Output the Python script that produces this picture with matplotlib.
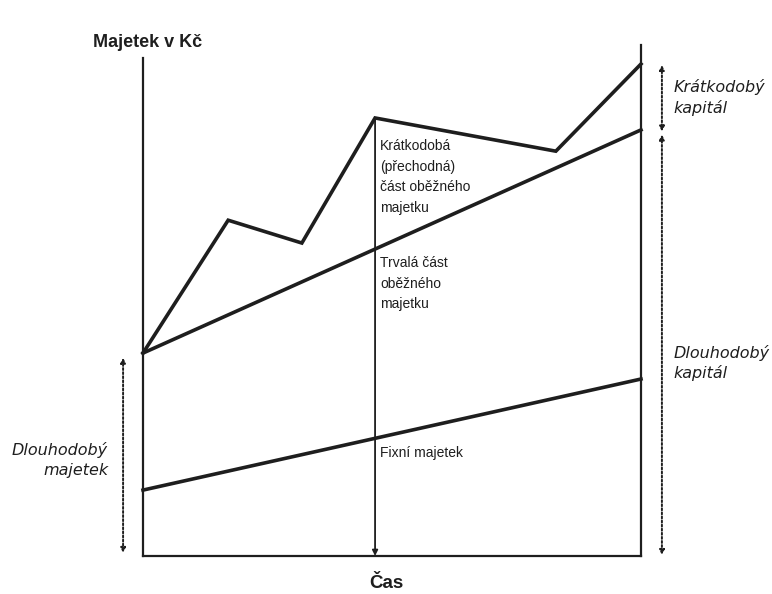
import matplotlib
matplotlib.use("Agg")
import matplotlib.pyplot as plt

# Data (time 0..1, value in arbitrary units of assets)
time_pts = [0.0, 0.171, 0.319, 0.466, 0.829, 1.0]
total_assets = [39.1, 64.7, 60.3, 84.4, 78.0, 94.8]
perm_time = [0.0, 1.0]
permanent_current = [39.1, 82.1]
fixed_time = [0.0, 1.0]
fixed_assets = [12.7, 34.1]
peak_time = 0.466
peak_value = 84.4

ylabel_text = "Majetek v Kč"
xlabel_text = "Čas"

plt.rcParams['font.family'] = ['Liberation Sans', 'DejaVu Sans']

fig = plt.figure(figsize=(7.72, 5.94), dpi=100)
ax = fig.add_axes([143/772, (594-556)/594, (641-143)/772, (556-37)/594])
ax.set_xlim(0, 1)
ax.set_ylim(0, 100)
ax.axis('off')

c = '#1e1e1e'
# axes lines
ax.plot([0, 0], [0, 96], color=c, lw=1.6, clip_on=False)
ax.plot([0, 1], [0, 0], color=c, lw=1.6, clip_on=False)
ax.plot([1, 1], [0, 98.5], color=c, lw=1.6, clip_on=False)

# series
ax.plot(time_pts, total_assets, color=c, lw=2.6, clip_on=False, solid_joinstyle='miter')
ax.plot(perm_time, permanent_current, color=c, lw=2.6, clip_on=False)
ax.plot(fixed_time, fixed_assets, color=c, lw=2.6, clip_on=False)

# middle vertical arrow
ax.annotate('', xy=(peak_time, 0), xytext=(peak_time, peak_value),
            arrowprops=dict(arrowstyle='-|>', color=c, lw=1.3, mutation_scale=8,
                            shrinkA=0, shrinkB=0), annotation_clip=False)

# dotted arrows
def darrow(x, y0, y1):
    ax.annotate('', xy=(x, y0), xytext=(x, y1),
                arrowprops=dict(arrowstyle='<|-|>', color=c, lw=1.4, ls=(0, (1, 1.1)),
                                mutation_scale=7, shrinkA=0, shrinkB=0),
                annotation_clip=False)

darrow(-0.040, 0.6, 38.2)
darrow(1.042, 81.8, 94.6)
darrow(1.042, 0.2, 81.2)

fs = 10
ax.text(-0.100, 98.9, ylabel_text, fontsize=13, color=c, ha='left', va='center', fontweight='bold')
ax.text(0.488, -5.3, xlabel_text, fontsize=13.5, color=c, ha='center', va='center', fontweight='bold')

ax.text(0.476, 80.3, "Krátkodobá\n(přechodná)\nčást oběžného\nmajetku", fontsize=fs, color=c,
        ha='left', va='top', linespacing=1.6)
ax.text(0.476, 57.8, "Trvalá část\noběžného\nmajetku", fontsize=fs, color=c,
        ha='left', va='top', linespacing=1.6)
ax.text(0.476, 19.8, "Fixní majetek", fontsize=fs, color=c, ha='left', va='center')

ital = dict(fontsize=11.5, color=c, style='italic', linespacing=1.35,
            family=['DejaVu Sans'], va='center')
ax.text(-0.070, 18.5, "Dlouhodobý\nmajetek", ha='right', **ital)
ax.text(1.066, 88.3, "Krátkodobý\nkapitál", ha='left', **ital)
ax.text(1.066, 37.2, "Dlouhodobý\nkapitál", ha='left', **ital)

fig.savefig('out.png', dpi=100, facecolor='white')
